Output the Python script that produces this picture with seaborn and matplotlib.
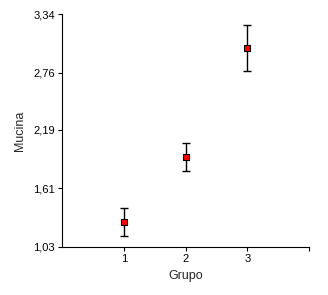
import numpy as np
import matplotlib
matplotlib.use('Agg')
import matplotlib.pyplot as plt
import seaborn as sns
import pandas as pd

grupo = [1, 2, 3]
mucina = [1.28, 1.92, 3.005]
erro = [0.14, 0.14, 0.23]
yticks = [1.03, 1.61, 2.19, 2.76, 3.34]
ytick_labels = ['1,03', '1,61', '2,19', '2,76', '3,34']

sns.set_style('ticks')
plt.rcParams['font.family'] = ['Liberation Sans', 'DejaVu Sans']

data = pd.DataFrame({'Grupo': grupo, 'Mucina': mucina, 'erro': erro})

fig = plt.figure(figsize=(3.28, 2.95), dpi=100)
ax = fig.add_axes([62/328, 1 - 247/295, (309-62)/328, (247-14)/295])

ax.errorbar(data['Grupo'], data['Mucina'], yerr=data['erro'], fmt='none',
            ecolor='black', elinewidth=1, capsize=3, capthick=1, zorder=2)
sns.scatterplot(data=data, x='Grupo', y='Mucina', ax=ax, marker='s', s=17,
                color='red', edgecolor='black', linewidth=0.8, zorder=3)

ax.set_xlim(0, 4)
ax.set_ylim(1.03, 3.34)
ax.set_xticks([1, 2, 3, 4])
ax.set_xticklabels(['1', '2', '3', ''])
ax.set_yticks(yticks)
ax.set_yticklabels(ytick_labels)
ax.tick_params(labelsize=8, length=3, width=0.8, colors='black', pad=2)
for s in ['left', 'bottom']:
    ax.spines[s].set_linewidth(0.8)
    ax.spines[s].set_color('black')
sns.despine(ax=ax)

ax.set_xlabel('Grupo', fontsize=9)
ax.set_ylabel('Mucina', fontsize=9, labelpad=5)

fig.savefig('out.png', dpi=100)
